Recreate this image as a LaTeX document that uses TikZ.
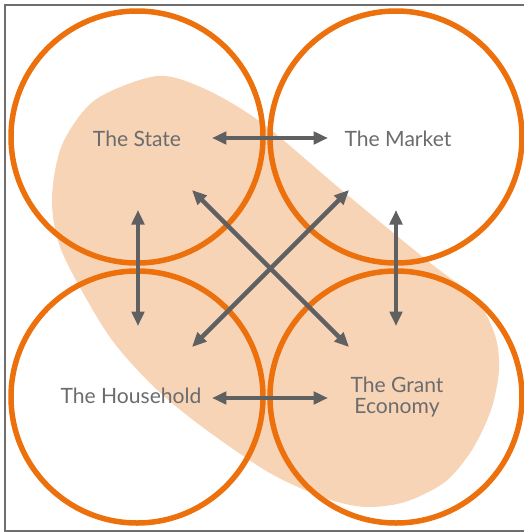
\documentclass[tikz,border=0pt]{standalone}
\usepackage{fontspec}
\setmainfont{Lato}
\usetikzlibrary{arrows.meta}
\definecolor{ringorange}{HTML}{EC700C}
\definecolor{blobpeach}{HTML}{F8D4B7}
\definecolor{arrowgray}{HTML}{5F6062}
\definecolor{textgray}{HTML}{6B6C6E}
\definecolor{framegray}{HTML}{6E6E6E}
\begin{document}
\begin{tikzpicture}[x=0.02cm,y=-0.02cm,
    ring/.style = {draw=ringorange,line width=0.11cm},
    link/.style = {draw=arrowgray,line width=0.09cm,{Triangle[length=0.29cm,width=0.25cm]}-{Triangle[length=0.29cm,width=0.25cm]}},
    sector/.style = {text=textgray,font=\fontsize{12}{12}\selectfont,align=center}]
\useasboundingbox (0,0) rectangle (524,532);
\fill[blobpeach] plot[smooth cycle] coordinates {(157,76) (205,89) (262,123) (345,193) (429,262) (475,298) (495,335) (499,370) (491,410) (472,450) (445,482) (405,502) (365,507) (325,498) (268,472) (197,423) (150,383) (107,333) (62,252) (52,200) (62,145) (95,100)};
\draw[draw=framegray,line width=0.04cm] (5,5) rectangle (545,531);
\foreach \name/\x/\y in {state/137/137,market/396/137,household/137/397,grant/396/397} \coordinate (\name) at (\x,\y);
\foreach \name in {state,market,household,grant} \draw[ring] (\name) circle[radius=126];
\node[sector] (statetext) at (137,139) {The State};
\node[sector] (markettext) at (398,139) {The Market};
\node[sector] (householdtext) at (131,396) {The Household};
\node[sector] (granttext) at (397,397) {The Grant\\Economy};
\coordinate (sm1) at (212,138); \coordinate (sm2) at (328,138);
\coordinate (hg1) at (212,398); \coordinate (hg2) at (328,398);
\coordinate (sh1) at (138,210); \coordinate (sh2) at (138,326);
\coordinate (mg1) at (396,210); \coordinate (mg2) at (396,326);
\coordinate (sg1) at (192,190); \coordinate (sg2) at (349,347);
\coordinate (mh1) at (349,190); \coordinate (mh2) at (192,347);
\foreach \a/\b in {sm1/sm2,hg1/hg2,sh1/sh2,mg1/mg2,sg1/sg2,mh1/mh2} \draw[link] (\a) -- (\b);
\end{tikzpicture}
\end{document}
